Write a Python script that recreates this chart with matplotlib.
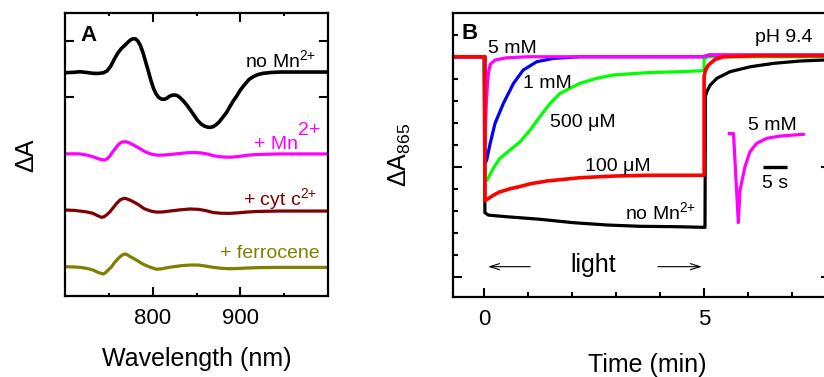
import matplotlib
matplotlib.use('Agg')
import matplotlib.pyplot as plt
from matplotlib.ticker import MultipleLocator, FixedLocator, NullFormatter, NullLocator

plt.rcParams['font.family'] = ['Liberation Sans', 'DejaVu Sans']
plt.rcParams['mathtext.fontset'] = 'custom'
plt.rcParams['mathtext.rm'] = 'Liberation Sans'
plt.rcParams['mathtext.it'] = 'Liberation Sans:italic'
plt.rcParams['mathtext.bf'] = 'Liberation Sans:bold'

# ---------------- Panel A data (difference spectra) ----------------
wl_none = [700, 710, 717, 725, 732, 738, 744, 748, 752, 756, 760, 764, 768, 772, 775, 778, 780.5,
           783, 786, 789, 792, 795, 798, 801, 804, 807, 810, 813, 816, 819, 822, 825, 828, 831,
           835, 839, 843, 847, 851, 855, 859, 863, 866, 869, 872, 876, 880, 884, 888, 892, 896,
           900, 905, 910, 915, 920, 926, 935, 945, 960, 1000]
dA_none = [-0.012, -0.005, 0.005, -0.008, -0.023, -0.025, -0.012, 0.02, 0.10, 0.22, 0.33, 0.41,
           0.47, 0.53, 0.57, 0.59, 0.585, 0.55, 0.47, 0.34, 0.18, 0.02, -0.15, -0.29, -0.39,
           -0.45, -0.478, -0.482, -0.465, -0.43, -0.41, -0.405, -0.415, -0.45, -0.51, -0.585,
           -0.67, -0.76, -0.85, -0.915, -0.955, -0.975, -0.977, -0.965, -0.935, -0.88, -0.80,
           -0.72, -0.613, -0.51, -0.42, -0.318, -0.22, -0.13, -0.08, -0.045, -0.023, -0.008, 0,
           0, 0]

wl_mn = [700, 710, 717, 725, 732, 738, 742, 745.6, 748.5, 751.3, 755, 759, 762, 765, 768.4, 771,
         774, 777.9, 782, 786, 790, 795, 800, 806, 812, 820, 830, 839, 847, 855, 862, 869, 876,
         883, 890, 898, 907, 916, 928, 945, 1000]
dA_mn = [0, 0.003, 0, -0.02, -0.05, -0.085, -0.104, -0.106, -0.08, -0.035, 0.05, 0.129, 0.18,
         0.21, 0.217, 0.21, 0.19, 0.159, 0.125, 0.09, 0.05, 0.015, -0.01, -0.022, -0.02, -0.01,
         0.007, 0.02, 0.025, 0.018, 0, -0.03, -0.048, -0.056, -0.057, -0.045, -0.025, -0.013,
         -0.006, 0, 0]

wl_cyt = [700, 710, 717, 725, 732, 737, 741.8, 744.5, 748, 751.3, 755, 759, 763, 767.3, 770, 774,
          777.9, 782, 786, 790, 796, 800, 805, 812, 820, 830, 842, 852, 860, 869, 878, 888, 898,
          907, 920, 945, 1000]
dA_cyt = [0.009, 0.003, -0.009, -0.025, -0.05, -0.09, -0.12, -0.11, -0.07, -0.021, 0.05, 0.127,
          0.19, 0.216, 0.21, 0.185, 0.155, 0.12, 0.08, 0.035, 0, -0.018, -0.028, -0.024, -0.008,
          0.01, 0.027, 0.022, 0.0, -0.035, -0.048, -0.05, -0.04, -0.027, -0.016, -0.009, -0.009]

wl_fc = [700, 710, 717, 725, 732, 738, 743.7, 746, 749, 753, 757, 760.9, 764, 767, 769, 772, 775,
         778, 782, 786, 790, 797, 804, 810, 816, 824, 834, 843, 852, 860, 869, 878, 888, 898,
         907, 920, 945, 1000]
dA_fc = [0.007, 0.003, -0.004, -0.022, -0.051, -0.095, -0.122, -0.1, -0.055, 0.005, 0.09, 0.155,
         0.2, 0.228, 0.231, 0.21, 0.18, 0.155, 0.12, 0.08, 0.045, 0.0, -0.037, -0.03, -0.012,
         0.008, 0.028, 0.037, 0.037, 0.02, -0.004, -0.02, -0.028, -0.024, -0.016, -0.009,
         -0.004, -0.004]

offsets_A = [0.447, -1.0, -2.0, -3.0]
colors_A = ['#000000', '#FF00FF', '#800000', '#808000']

# ---------------- Panel B data (kinetics at 865 nm) ----------------
t_none = [-0.75, 0.0, 0.02, 0.1, 0.52, 1.27, 2.03, 2.79, 3.55, 4.3, 4.98, 5.02, 5.03, 5.06, 5.14,
          5.29, 5.59, 6.05, 6.58, 7.18, 7.71, 7.9]
v_none = [0, 0, -1.418, -1.44, -1.455, -1.478, -1.509, -1.53, -1.542, -1.545, -1.551, -1.551,
          -0.36, -0.318, -0.257, -0.196, -0.136, -0.091, -0.06, -0.039, -0.03, -0.028]

t_500 = [-0.75, 0.02, 0.02, 0.075, 0.21, 0.36, 0.59, 0.82, 1.05, 1.27, 1.5, 1.73, 1.95, 2.18,
         2.56, 2.94, 3.7, 4.45, 4.98, 5.0, 5.0, 5.1, 7.9]
v_500 = [0, 0, -1.14, -1.12, -1.015, -0.924, -0.848, -0.773, -0.666, -0.545, -0.424, -0.333,
         -0.287, -0.242, -0.196, -0.166, -0.145, -0.136, -0.127, -0.127, -0.015, 0, 0]

t_1m = [-0.75, 0.02, 0.02, 0.06, 0.14, 0.25, 0.44, 0.67, 0.89, 1.2, 1.58, 2.18, 4.98, 5.1, 7.9]
v_1m = [0, 0, -0.97, -0.94, -0.788, -0.606, -0.424, -0.242, -0.121, -0.045, -0.015, 0, 0,
        0.015, 0.015]

t_5m = [-0.75, 0.02, 0.02, 0.05, 0.075, 0.1, 0.14, 0.25, 0.5, 1.0, 4.98, 5.1, 7.9]
v_5m = [0, 0, -0.75, -0.45, -0.27, -0.15, -0.07, -0.03, -0.01, 0, 0, 0.015, 0.015]

t_100 = [-0.75, 0.02, 0.02, 0.06, 0.21, 0.35, 0.6, 0.82, 1.05, 1.43, 2.18, 2.94, 3.7, 4.98, 5.0,
         5.0, 5.03, 5.1, 5.25, 5.44, 6.2, 7.9]
v_100 = [0, 0, -1.31, -1.30, -1.26, -1.23, -1.20, -1.18, -1.155, -1.13, -1.10, -1.085, -1.078,
         -1.078, -1.078, -0.182, -0.12, -0.075, -0.024, 0, 0.009, 0.009]

# inset: 5 mM trace on seconds scale
t_inset = [-1.22, -0.32, 0.71, 1.07, 2.14, 3.2, 4.64, 6.77, 9.6, 14.6]
v_inset = [0, 0, -0.81, -0.514, -0.30, -0.165, -0.089, -0.044, -0.023, -0.007]

W, H = 824, 377
fig = plt.figure(figsize=(W / 100, H / 100), dpi=100)


def frac(l, r, t, b):
    return [l / W, 1 - b / H, (r - l) / W, (b - t) / H]


SUP = '$^{2{+}}$'

# ---------------- Panel A ----------------
axA = fig.add_axes(frac(65, 328, 13, 296))
for wl, dA, off, c, lw in zip([wl_none, wl_mn, wl_cyt, wl_fc], [dA_none, dA_mn, dA_cyt, dA_fc],
                              offsets_A, colors_A, [2.6, 2.3, 2.3, 2.3]):
    axA.plot(wl, [off + v for v in dA], color=c, lw=lw, solid_joinstyle='round',
             solid_capstyle='butt')
axA.set_xlim(700, 1000)
axA.set_ylim(-3.51, 1.49)
axA.xaxis.set_major_locator(FixedLocator([800, 900]))
axA.xaxis.set_minor_locator(FixedLocator([750, 850, 950]))
axA.yaxis.set_major_locator(FixedLocator([0, 1]))
axA.yaxis.set_minor_locator(NullLocator())
axA.yaxis.set_major_formatter(NullFormatter())
axA.tick_params(which='both', direction='in', top=True, right=True, width=1.5, labelsize=16,
                pad=9)
axA.tick_params(which='major', length=6.5)
axA.tick_params(which='minor', length=2.5)
for s in axA.spines.values():
    s.set_linewidth(1.6)
axA.set_xlabel('Wavelength (nm)', fontsize=18)
axA.xaxis.set_label_coords(0.5, -0.18)
axA.text(0.091, 0.919, 'A', transform=axA.transAxes, fontsize=16, fontweight='bold',
         ha='center', va='center')
axA.text(987, 0.53, 'no Mn' + SUP, ha='right', va='baseline', fontsize=14, color='#000000')
axA.text(965.8, -0.913, '+ Mn', ha='right', va='baseline', fontsize=14, color='#FF00FF')
axA.text(966.3, -0.666, '2+', ha='left', va='baseline', fontsize=14, color='#FF00FF')
axA.text(987, -1.903, '+ cyt c' + SUP, ha='right', va='baseline', fontsize=14, color='#800000')
axA.text(990.9, -2.845, '+ ferrocene', ha='right', va='baseline', fontsize=14, color='#808000')
fig.text(26 / W, 1 - 155 / H, '\u0394A', rotation=90, ha='center', va='center', fontsize=18)

# ---------------- Panel B ----------------
axB = fig.add_axes(frac(453.3, 830, 13.3, 296.7))
axB.plot(t_none, v_none, color='#000000', lw=2.3)
axB.plot(t_500, v_500, color='#00FF00', lw=2.3)
axB.plot(t_1m, v_1m, color='#0000FF', lw=2.3)
axB.plot(t_5m, v_5m, color='#FF00FF', lw=2.3)
axB.plot(t_100, v_100, color='#FF0000', lw=2.6)
axB.set_xlim(-0.698, 7.86)
axB.set_ylim(-2.182, 0.395)
axB.xaxis.set_major_locator(MultipleLocator(5))
axB.xaxis.set_minor_locator(MultipleLocator(1))
axB.yaxis.set_major_locator(MultipleLocator(1))
axB.yaxis.set_minor_locator(MultipleLocator(0.2))
axB.yaxis.set_major_formatter(NullFormatter())
axB.tick_params(which='both', direction='in', top=False, right=True, width=1.5, labelsize=16,
                pad=9)
axB.tick_params(which='major', length=6.5)
axB.tick_params(which='minor', length=3.6)
for s in axB.spines.values():
    s.set_linewidth(1.6)
axB.set_xlabel('Time (min)', fontsize=18)
axB.xaxis.set_label_coords(0.516, -0.2)
axB.text(0.042, 0.927, 'B', transform=axB.transAxes, fontsize=16, fontweight='bold',
         ha='center', va='center')
lab = dict(ha='left', va='baseline', fontsize=14)
axB.text(0.09, 0.031, '5 mM', **lab)
axB.text(0.89, -0.287, '1 mM', **lab)
axB.text(1.5, -0.636, '500 \u03bcM', **lab)
axB.text(2.3, -1.036, '100 \u03bcM', **lab)
axB.text(3.2, -1.478, 'no Mn' + SUP, **lab)
axB.text(6.16, 0.136, 'pH 9.4', **lab)
axB.text(2.48, -1.957, 'light', ha='center', va='baseline', fontsize=18)
arr = dict(arrowstyle='->,head_length=0.7,head_width=0.22', lw=0.8, color='#000000',
           shrinkA=0, shrinkB=0)
axB.annotate('', xy=(0.09, -1.909), xytext=(1.05, -1.909), arrowprops=arr)
axB.annotate('', xy=(4.95, -1.909), xytext=(3.95, -1.909), arrowprops=arr)
fig.text(400 / W, 1 - 155 / H, '\u0394A$_{865}$', rotation=90, ha='center', va='center',
         fontsize=18)

# inset
axI = fig.add_axes(frac(725, 810, 120, 230))
axI.plot(t_inset, v_inset, color='#FF00FF', lw=2.3)
axI.set_xlim(-2.137, 16.03)
axI.set_ylim(-0.877, 0.123)
axI.axis('off')
axI.plot([6.05, 11.05], [-0.307, -0.307], color='#000000', lw=2.4, solid_capstyle='butt')
axI.text(8.55, -0.495, '5 s', ha='center', va='baseline', fontsize=14)
axI.text(7.97, 0.032, '5 mM', ha='center', va='baseline', fontsize=14)

fig.savefig('out.png', dpi=100)
